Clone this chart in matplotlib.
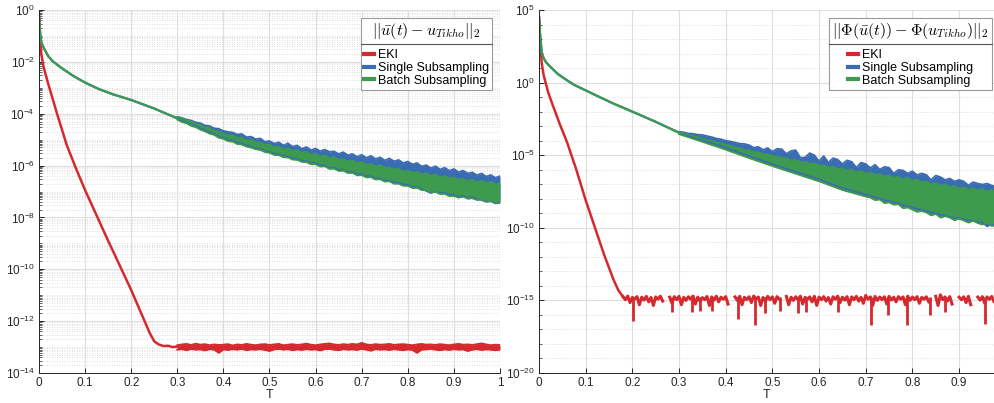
import numpy as np
import matplotlib
matplotlib.use("Agg")
import matplotlib.pyplot as plt
from matplotlib.ticker import LogLocator, NullFormatter, FixedLocator
from matplotlib.lines import Line2D
from matplotlib.font_manager import FontProperties

plt.rcParams['font.family'] = ['Liberation Sans', 'DejaVu Sans']
plt.rcParams['axes.unicode_minus'] = False

RED = '#d42a2f'
BLUE = '#3a6cb4'
GREEN = '#3d9a4e'

LABELS = ['EKI', 'Single Subsampling', 'Batch Subsampling']
TITLE_L = r'$||\bar{u}(t) - u_{Tikho}||_2$'
TITLE_R = r'$||\Phi(\bar{u}(t)) - \Phi(u_{Tikho})||_2$'

XTICKS_L = [0, 0.1, 0.2, 0.3, 0.4, 0.5, 0.6, 0.7, 0.8, 0.9, 1.0]
XTICKLABELS_L = ['0', '0.1', '0.2', '0.3', '0.4', '0.5', '0.6', '0.7', '0.8', '0.9', '1']
XTICKS_R = XTICKS_L[:-1]
XTICKLABELS_R = XTICKLABELS_L[:-1]
YTICK_EXP_L = [0, -2, -4, -6, -8, -10, -12, -14]
YTICK_EXP_R = [5, 0, -5, -10, -15, -20]
nan = float('nan')

# ---------------- left panel: ||u(t) - u_Tikho||  (log10 values) ----------------
# smooth start, shared by both subsampling variants
T_SUB_L = [0, 0.001, 0.003, 0.005, 0.01, 0.02, 0.03, 0.05, 0.075, 0.1, 0.13, 0.16, 0.2, 0.25, 0.3]
SUB_L = [-0.15, -0.5, -1.0, -1.25, -1.45, -1.78, -1.98, -2.25, -2.55, -2.8, -3.05, -3.25, -3.47, -3.8, -4.18]

T_NOISE_L = [0.30, 0.31, 0.32, 0.33, 0.34, 0.35, 0.36, 0.37, 0.38, 0.39,
             0.40, 0.41, 0.42, 0.43, 0.44, 0.45, 0.46, 0.47, 0.48, 0.49,
             0.50, 0.51, 0.52, 0.53, 0.54, 0.55, 0.56, 0.57, 0.58, 0.59,
             0.60, 0.61, 0.62, 0.63, 0.64, 0.65, 0.66, 0.67, 0.68, 0.69,
             0.70, 0.71, 0.72, 0.73, 0.74, 0.75, 0.76, 0.77, 0.78, 0.79,
             0.80, 0.81, 0.82, 0.83, 0.84, 0.85, 0.86, 0.87, 0.88, 0.89,
             0.90, 0.91, 0.92, 0.93, 0.94, 0.95, 0.96, 0.97, 0.98, 0.99, 1.00]

BATCH_L_HI = [-4.13, -4.18, -4.24, -4.30, -4.40, -4.43, -4.53, -4.55, -4.66, -4.69,
              -4.76, -4.84, -4.83, -4.93, -4.92, -5.03, -5.00, -5.11, -5.10, -5.22,
              -5.18, -5.28, -5.27, -5.36, -5.33, -5.43, -5.40, -5.50, -5.47, -5.58,
              -5.55, -5.64, -5.60, -5.71, -5.67, -5.77, -5.74, -5.84, -5.80, -5.90,
              -5.85, -5.97, -5.93, -6.03, -5.98, -6.09, -6.06, -6.16, -6.12, -6.23,
              -6.19, -6.28, -6.23, -6.34, -6.29, -6.39, -6.34, -6.45, -6.40, -6.50,
              -6.45, -6.55, -6.50, -6.60, -6.54, -6.64, -6.58, -6.67, -6.62, -6.72, -6.68]
BATCH_L_LO = [-4.23, -4.32, -4.37, -4.47, -4.52, -4.62, -4.68, -4.77, -4.82, -4.93,
              -4.97, -5.06, -5.08, -5.17, -5.19, -5.27, -5.31, -5.37, -5.40, -5.48,
              -5.51, -5.59, -5.60, -5.68, -5.69, -5.77, -5.78, -5.86, -5.87, -5.95,
              -5.95, -6.04, -6.03, -6.13, -6.12, -6.21, -6.20, -6.29, -6.28, -6.38,
              -6.37, -6.46, -6.45, -6.54, -6.53, -6.62, -6.61, -6.70, -6.70, -6.78,
              -6.78, -6.87, -6.86, -6.95, -6.94, -7.02, -7.02, -7.10, -7.09, -7.18,
              -7.17, -7.24, -7.20, -7.28, -7.26, -7.33, -7.30, -7.37, -7.35, -7.42, -7.38]
SINGLE_L_HI = [-4.12, -4.16, -4.22, -4.26, -4.33, -4.36, -4.45, -4.47, -4.56, -4.58,
               -4.66, -4.70, -4.72, -4.80, -4.78, -4.90, -4.88, -4.98, -4.95, -5.08,
               -5.05, -5.15, -5.10, -5.22, -5.14, -5.27, -5.22, -5.35, -5.28, -5.40,
               -5.34, -5.44, -5.38, -5.47, -5.45, -5.55, -5.48, -5.60, -5.55, -5.66,
               -5.58, -5.70, -5.62, -5.74, -5.68, -5.80, -5.72, -5.83, -5.78, -5.90,
               -5.84, -5.95, -5.90, -6.03, -5.98, -6.10, -6.02, -6.15, -6.08, -6.20,
               -6.13, -6.25, -6.19, -6.30, -6.26, -6.37, -6.30, -6.42, -6.36, -6.47, -6.40]
SINGLE_L_LO = [-4.20, -4.28, -4.34, -4.42, -4.48, -4.57, -4.63, -4.72, -4.78, -4.88,
               -4.93, -5.01, -5.04, -5.12, -5.15, -5.22, -5.27, -5.33, -5.36, -5.44,
               -5.47, -5.54, -5.56, -5.63, -5.65, -5.72, -5.74, -5.81, -5.83, -5.90,
               -5.91, -5.99, -5.99, -6.08, -6.08, -6.16, -6.16, -6.24, -6.24, -6.33,
               -6.33, -6.41, -6.41, -6.49, -6.49, -6.57, -6.57, -6.65, -6.66, -6.73,
               -6.74, -6.82, -6.82, -6.90, -6.98, -7.06, -7.00, -7.05, -7.05, -7.13,
               -7.13, -7.20, -7.16, -7.24, -7.22, -7.29, -7.33, -7.40, -7.38, -7.46, -7.44]

T_EKI_L = [0, 0.002, 0.005, 0.01, 0.02, 0.03, 0.04, 0.06, 0.08, 0.1, 0.15, 0.2,
           0.24, 0.25, 0.26, 0.27, 0.28, 0.29, 0.30]
EKI_L = [-0.1, -1.0, -1.7, -2.2, -2.85, -3.45, -4.05, -5.2, -6.1, -6.95, -8.9, -10.8,
         -12.45, -12.78, -12.9, -12.96, -12.95, -13.0, -12.98]
EKI_L_HI = [-12.93, -12.90, -12.88, -12.92, -12.87, -12.91, -12.89, -12.93, -12.90, -12.92,
            -12.91, -12.89, -12.94, -12.90, -12.92, -12.88, -12.91, -12.93, -12.90, -12.89,
            -12.92, -12.90, -12.88, -12.93, -12.91, -12.89, -12.92, -12.90, -12.87, -12.91,
            -12.93, -12.90, -12.88, -12.86, -12.90, -12.92, -12.89, -12.91, -12.88, -12.90,
            -12.84, -12.90, -12.92, -12.89, -12.91, -12.90, -12.88, -12.92, -12.90, -12.89,
            -12.91, -12.93, -12.90, -12.88, -12.91, -12.90, -12.92, -12.89, -12.91, -12.93,
            -12.90, -12.88, -12.91, -12.90, -12.92, -12.89, -12.86, -12.90, -12.93, -12.91, -12.92]
EKI_L_LO = [-13.10, -13.08, -13.12, -13.07, -13.10, -13.09, -13.13, -13.08, -13.10, -13.22,
            -13.09, -13.11, -13.08, -13.10, -13.07, -13.12, -13.09, -13.10, -13.08, -13.11,
            -13.15, -13.09, -13.07, -13.10, -13.08, -13.12, -13.09, -13.11, -13.08, -13.10,
            -13.09, -13.13, -13.08, -13.07, -13.10, -13.12, -13.08, -13.10, -13.09, -13.11,
            -13.07, -13.10, -13.14, -13.08, -13.10, -13.09, -13.11, -13.08, -13.10, -13.12,
            -13.09, -13.11, -13.22, -13.10, -13.09, -13.07, -13.10, -13.12, -13.09, -13.11,
            -13.08, -13.10, -13.09, -13.15, -13.10, -13.08, -13.11, -13.09, -13.10, -13.12, -13.10]

# ---------------- right panel: ||Phi(u(t)) - Phi(u_Tikho)||  (log10 values) ----------------
T_SUB_R = [0, 0.003, 0.006, 0.009, 0.015, 0.024, 0.04, 0.059, 0.075, 0.095, 0.13, 0.16, 0.2, 0.25, 0.3]
SUB_R = [4.55, 3.0, 2.1, 1.75, 1.4, 1.1, 0.6, 0.18, -0.15, -0.46, -1.0, -1.45, -2.0, -2.7, -3.45]

T_NOISE_R = T_NOISE_L[:69]

BATCH_R_HI = [-3.42, -3.50, -3.60, -3.66, -3.77, -3.84, -3.95, -4.00, -4.12, -4.17,
              -4.29, -4.34, -4.46, -4.50, -4.63, -4.66, -4.78, -4.80, -4.93, -4.94,
              -5.06, -5.08, -5.20, -5.20, -5.34, -5.33, -5.47, -5.45, -5.59, -5.55,
              -5.71, -5.68, -5.83, -5.78, -5.95, -5.90, -6.06, -5.98, -6.16, -6.08,
              -6.26, -6.18, -6.36, -6.28, -6.46, -6.38, -6.56, -6.48, -6.66, -6.55,
              -6.76, -6.66, -6.88, -6.78, -7.00, -6.90, -7.11, -7.00, -7.21, -7.10,
              -7.31, -7.20, -7.37, -7.25, -7.43, -7.32, -7.49, -7.38, -7.56]
BATCH_R_LO = [-3.55, -3.66, -3.76, -3.87, -3.97, -4.08, -4.19, -4.30, -4.40, -4.51,
              -4.62, -4.74, -4.85, -4.97, -5.08, -5.20, -5.31, -5.42, -5.53, -5.64,
              -5.75, -5.86, -5.96, -6.07, -6.17, -6.28, -6.38, -6.49, -6.59, -6.70,
              -6.80, -6.92, -7.04, -7.16, -7.28, -7.40, -7.49, -7.58, -7.67, -7.76,
              -7.85, -7.92, -8.10, -8.05, -8.30, -8.25, -8.41, -8.38, -8.65, -8.60,
              -8.75, -8.90, -8.85, -8.95, -9.15, -9.05, -9.30, -9.20, -9.30, -9.48,
              -9.38, -9.50, -9.65, -9.52, -9.68, -9.78, -9.66, -9.88, -9.80]
SINGLE_R_HI = [-3.38, -3.42, -3.50, -3.52, -3.58, -3.60, -3.68, -3.75, -3.85, -3.90,
               -4.00, -4.05, -4.12, -4.20, -4.22, -4.30, -4.48, -4.42, -4.63, -4.50,
               -4.76, -4.55, -4.58, -4.90, -4.70, -4.65, -5.17, -5.15, -4.85, -5.00,
               -5.41, -5.05, -5.50, -5.20, -5.30, -5.60, -5.35, -5.45, -5.85, -5.50,
               -5.60, -5.88, -5.65, -5.98, -5.80, -5.85, -6.26, -6.00, -6.05, -6.25,
               -6.10, -6.36, -6.25, -6.35, -6.70, -6.40, -6.50, -6.70, -6.60, -6.80,
               -6.70, -6.80, -7.07, -6.85, -6.95, -7.02, -6.95, -7.08, -7.20]
SINGLE_R_LO = [-3.50, -3.60, -3.68, -3.78, -3.87, -3.97, -4.07, -4.17, -4.27, -4.37,
               -4.48, -4.60, -4.71, -4.83, -4.94, -5.06, -5.17, -5.28, -5.39, -5.50,
               -5.61, -5.72, -5.82, -5.93, -6.03, -6.14, -6.24, -6.35, -6.45, -6.56,
               -6.66, -6.78, -6.90, -7.02, -7.14, -7.26, -7.35, -7.44, -7.53, -7.62,
               -7.71, -7.80, -7.90, -7.98, -8.10, -8.15, -8.28, -8.30, -8.45, -8.50,
               -8.60, -8.70, -8.75, -8.85, -8.95, -9.00, -9.10, -9.15, -9.25, -9.30,
               -9.35, -9.40, -9.50, -9.50, -9.60, -9.65, -9.90, -9.75, -9.95]

T_EKI_R = [0, 0.003, 0.006, 0.01, 0.02, 0.03, 0.045, 0.06, 0.08, 0.1, 0.12, 0.14, 0.16, 0.17, 0.18]
EKI_R = [4.5, 2.5, 1.3, 0.5, -0.7, -1.6, -2.9, -4.1, -6.0, -8.1, -10.0, -11.9, -13.6, -14.3, -14.75]

T_FLOOR_R = [0.18, 0.19, 0.20, 0.21, 0.22, 0.23, 0.24, 0.25, 0.26, 0.27, 0.28, 0.29] + T_NOISE_L[:69]
# floor of the EKI curve: upper points and the small dips right after them (nan = value 0, not drawn)
EKI_R_HI = [-14.75, -14.70, -14.80, -14.74, -14.78, -14.72, -14.80, -14.76, -14.71, nan,
            -14.78, -14.74, -14.72, -14.79, -14.75, -14.70, -14.77, -14.81, -14.73, -14.76,
            -14.71, -14.78, -14.74, nan, -14.76, -14.72, -14.79, -14.75, -14.70, -14.77,
            -14.80, -14.72, -14.76, -14.74, nan, -14.73, -14.78, -14.75, -14.71, -14.79,
            -14.76, -14.72, -14.77, -14.74, -14.80, -14.75, -14.71, -14.78, -14.74, -14.76,
            -14.72, -14.79, -14.66, -14.76, -14.73, -14.77, -14.75, -14.72, -14.78, -14.74,
            -14.76, -14.71, -14.77, -14.74, -14.79, -14.75, nan, -14.72, -14.62, -14.76,
            -14.74, nan, -14.78, -14.75, -14.72, nan, -14.77, -14.74, -14.76, -14.73, -14.78]
EKI_R_LO = [-14.95, -15.15, -14.90, -15.30, -14.98, -15.10, -15.35, -14.92, -15.05, nan,
            -15.20, -14.95, -15.30, -15.00, -14.92, -15.25, -15.05, -14.95, -15.35, -14.98,
            -15.10, -14.92, -15.25, nan, -15.00, -15.30, -14.95, -15.15, -14.90, -15.35,
            -15.05, -14.95, -15.20, -14.92, nan, -15.30, -15.00, -14.95, -15.25, -14.92,
            -15.10, -15.35, -14.95, -15.05, -15.25, -14.92, -15.15, -14.98, -15.30, -14.95,
            -15.05, -15.20, -14.92, -15.35, -15.00, -14.95, -15.25, -14.98, -15.10, -14.92,
            -15.30, -15.00, -14.95, -15.20, -14.92, -15.10, nan, -15.35, -14.95, -15.05,
            -15.25, nan, -14.95, -15.15, -15.30, nan, -14.98, -15.20, -14.92, -15.10, -15.00]
# deep downward spikes of the EKI floor
SPIKE_R_T = [0.202, 0.284, 0.327, 0.345, 0.370, 0.427, 0.463, 0.484, 0.516, 0.555,
             0.573, 0.641, 0.711, 0.748, 0.789, 0.837, 0.869, 0.955]
SPIKE_R = [-16.4, -15.8, -15.8, -15.7, -15.7, -16.3, -16.7, -15.9, -15.7, -15.9,
           -15.8, -15.8, -16.7, -16.0, -16.7, -16.0, -15.8, -16.6]
SPIKE_R_BASE = -14.8


def pw(vals):
    return np.power(10.0, np.asarray(vals, dtype=float))


def band(ax, t, lo, hi, color, lw):
    ax.fill_between(t, pw(lo), pw(hi), color=color, lw=0)
    ax.plot(t, pw(hi), color=color, lw=lw)
    ax.plot(t, pw(lo), color=color, lw=lw)


def zigzag(ax, t, hi, lo, color, lw):
    # every upper point is followed half a step later by its dip
    t = np.asarray(t)
    step = t[1] - t[0]
    tt = np.ravel(np.column_stack([t, t + step / 2]))
    yy = np.ravel(np.column_stack([hi, lo]))
    ax.plot(tt, pw(yy), color=color, lw=lw)


def style_axes(ax, xticks, xticklabels, yexp, minor_subs, ylim_exp, xmax):
    ax.set_yscale('log')
    ax.set_xlim(0, xmax)
    ax.set_ylim(10.0 ** ylim_exp[0], 10.0 ** ylim_exp[1])
    ax.set_xticks(xticks)
    ax.set_xticklabels(xticklabels)
    ax.yaxis.set_major_locator(FixedLocator([10.0 ** e for e in yexp]))
    ax.yaxis.set_minor_locator(LogLocator(base=10, subs=minor_subs, numticks=200))
    ax.yaxis.set_minor_formatter(NullFormatter())
    ax.grid(True, which='major', color='#dedede', lw=0.8, ls='-')
    ax.grid(True, which='minor', axis='y', color='#d4d4d4', lw=0.6, ls=(0, (1, 2)))
    ax.set_axisbelow(True)
    for s in ['top', 'right']:
        ax.spines[s].set_visible(False)
    for s in ['left', 'bottom']:
        ax.spines[s].set_color('#262626')
        ax.spines[s].set_linewidth(0.7)
    ax.tick_params(which='major', direction='in', length=3.5, width=0.7,
                   colors='#262626', labelsize=8.5, pad=3)
    ax.tick_params(which='minor', direction='in', length=1.8, width=0.5, colors='#262626')
    ax.tick_params(axis='x', which='minor', bottom=False)
    ax.set_xlabel('T', fontsize=9, color='#262626', labelpad=0)


def add_legend(ax, title, anchor):
    handles = [Line2D([], [], color=c, lw=3) for c in (RED, BLUE, GREEN)]
    leg = ax.legend(handles, LABELS, title=title, loc='upper right', bbox_to_anchor=anchor,
                    borderaxespad=0, fontsize=9, handlelength=0.8, handletextpad=0.3,
                    labelspacing=0.05, borderpad=0.25, fancybox=False, framealpha=1,
                    edgecolor='#9a9a9a',
                    title_fontproperties=FontProperties(size=11.5, math_fontfamily='cm'))
    leg.get_frame().set_linewidth(0.8)
    # room between the title and the entries for the separator line
    leg._legend_box.sep = 6
    return leg


fig = plt.figure(figsize=(9.95, 4.03), dpi=100)
axL = fig.add_axes([39 / 995, 30 / 403, 461 / 995, 363 / 403])
axR = fig.add_axes([539 / 995, 30 / 403, 456 / 995, 363 / 403])

# left panel
axL.plot(T_EKI_L, pw(EKI_L), color=RED, lw=1.8)
band(axL, T_NOISE_L, EKI_L_LO, EKI_L_HI, RED, 1.4)
axL.plot(T_SUB_L, pw(SUB_L), color=BLUE, lw=1.6)
band(axL, T_NOISE_L, SINGLE_L_LO, SINGLE_L_HI, BLUE, 1.2)
axL.plot(T_SUB_L, pw(SUB_L), color=GREEN, lw=1.6)
band(axL, T_NOISE_L, BATCH_L_LO, BATCH_L_HI, GREEN, 1.2)
style_axes(axL, XTICKS_L, XTICKLABELS_L, YTICK_EXP_L, np.arange(1, 10), (-14, 0), 1.0)
legL = add_legend(axL, TITLE_L, (0.983, 0.978))

# right panel
axR.plot(T_EKI_R, pw(EKI_R), color=RED, lw=1.8)
zigzag(axR, T_FLOOR_R, EKI_R_HI, EKI_R_LO, RED, 2.2)
axR.vlines(SPIKE_R_T, pw(SPIKE_R), pw([SPIKE_R_BASE] * len(SPIKE_R)), color=RED, lw=2.0)
axR.plot(T_SUB_R, pw(SUB_R), color=BLUE, lw=1.6)
band(axR, T_NOISE_R, SINGLE_R_LO, SINGLE_R_HI, BLUE, 1.2)
axR.plot(T_SUB_R, pw(SUB_R), color=GREEN, lw=1.6)
band(axR, T_NOISE_R, BATCH_R_LO, BATCH_R_HI, GREEN, 1.2)
style_axes(axR, XTICKS_R, XTICKLABELS_R, YTICK_EXP_R, (1.0,), (-20, 5), 0.977)
legR = add_legend(axR, TITLE_R, (0.993, 0.978))

# separator line under each legend title
fig.canvas.draw()
r = fig.canvas.get_renderer()
inv = fig.transFigure.inverted()
for leg in (legL, legR):
    lb = leg.get_window_extent(r)
    tb = leg.get_title().get_window_extent(r)
    y = tb.y0 - 3
    (x0, yy), (x1, _) = inv.transform([(lb.x0, y), (lb.x1, y)])
    fig.add_artist(Line2D([x0, x1], [yy, yy], transform=fig.transFigure,
                          color='#555555', lw=0.8, zorder=10))

fig.savefig('out.png', dpi=100)
